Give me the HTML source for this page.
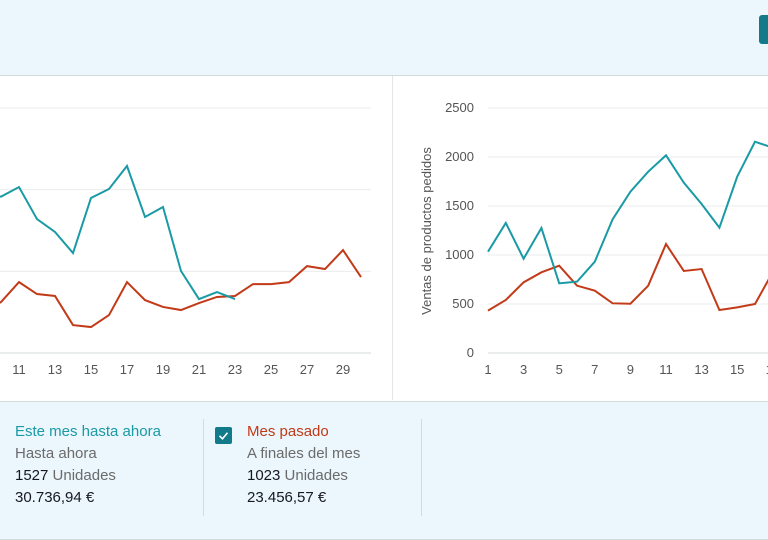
<!DOCTYPE html>
<html><head><meta charset="utf-8"><style>
body{margin:0;width:768px;height:539px;overflow:hidden;background:#fff;font-family:"Liberation Sans",sans-serif;position:relative}
.hdr{position:absolute;left:0;top:0;width:768px;height:75px;background:#ebf6fd;border-bottom:1px solid #d5dbdb}
.btn{position:absolute;left:759px;top:15px;width:20px;height:29px;background:#137a89;border-radius:3px}
.leg{position:absolute;left:0;top:401px;width:768px;height:137px;background:#ebf6fd;border-top:1px solid #d5dbdb;border-bottom:1px solid #d5dbdb}
.t{position:absolute;font-size:15px;line-height:21px}
.div{position:absolute;top:17px;width:1px;height:97px;background:#d5dbdb}
.cb{position:absolute;left:215px;top:25px;width:17px;height:17px;background:#137a89;border-radius:2px}
</style></head><body>
<div class="hdr"><div class="btn"></div></div>
<svg id="chart" width="768" height="400" style="position:absolute;left:0;top:0">
<rect x="392" y="76" width="1" height="325" fill="#e3e6e6"/>
<g id="left"></g><g id="right"></g>
<text transform="translate(431,231) rotate(-90)" text-anchor="middle" font-size="13" fill="#555" font-family="Liberation Sans">Ventas de productos pedidos</text>
</svg>
<div class="leg">
<div class="t" style="left:15px;top:19px;color:#1a9aa5">Este mes hasta ahora</div>
<div class="t" style="left:15px;top:41px;color:#6b6b6b">Hasta ahora</div>
<div class="t" style="left:15px;top:63px;color:#16191f">1527 <span style="color:#6b6b6b">Unidades</span></div>
<div class="t" style="left:15px;top:85px;color:#16191f">30.736,94 €</div>
<div class="div" style="left:203px"></div>
<div class="cb"><svg width="17" height="17"><path d="M4.5 8.8l3 3 5-6" stroke="#fff" stroke-width="1.6" fill="none"/></svg></div>
<div class="t" style="left:247px;top:19px;color:#c23a17">Mes pasado</div>
<div class="t" style="left:247px;top:41px;color:#6b6b6b">A finales del mes</div>
<div class="t" style="left:247px;top:63px;color:#16191f">1023 <span style="color:#6b6b6b">Unidades</span></div>
<div class="t" style="left:247px;top:85px;color:#16191f">23.456,57 €</div>
<div class="div" style="left:421px"></div>
</div>
<script>
const leftDays=[9,10,11,12,13,14,15,16,17,18,19,20,21,22,23,24,25,26,27,28,29,30];
const leftThis=[980,957,1016,820,741,612,949,1004,1145,833,894,502,330,373,330];
const leftLast=[250,312,434,361,349,171,159,232,434,324,282,263,306,343,349,422,422,434,532,514,630,465];
const leftTicks=[11,13,15,17,19,21,23,25,27,29];
const leftGrid=[0,500,1000,1500];
const rightDays=[1,2,3,4,5,6,7,8,9,10,11,12,13,14,15,16,17,18];
const rightThis=[1034,1327,962,1276,711,728,932,1364,1646,1850,2017,1738,1520,1279,1799,2156,2095,2000];
const rightLast=[432,541,721,823,891,687,636,507,503,687,1112,837,857,439,466,500,826,900];
const rightTicks=[1,3,5,7,9,11,13,15,17];
const rightGrid=[0,500,1000,1500,2000,2500];
const NS='http://www.w3.org/2000/svg';
function mk(tag,attrs,parent){const e=document.createElementNS(NS,tag);for(const k in attrs)e.setAttribute(k,attrs[k]);parent.appendChild(e);return e;}
function draw(g,opt){
  const xS=d=>opt.x0+(d-opt.d0)*opt.dx;
  const yS=v=>353-v*opt.ky;
  opt.grid.forEach(v=>{
    const l=mk('line',{x1:opt.gx1,x2:opt.gx2,y1:yS(v),y2:yS(v),stroke:v===0?'#d5dbdb':'#e9ebed','stroke-width':1},g);
    
    
    if(opt.ylab){const t=mk('text',{x:opt.ylx,y:yS(v)+4,'text-anchor':'end','font-size':13,fill:'#555','font-family':'Liberation Sans'},g);t.textContent=v;
    
    }
  });
  opt.ticks.forEach(d=>{const t=mk('text',{x:xS(d),y:374,'text-anchor':'middle','font-size':13,fill:'#555','font-family':'Liberation Sans'},g);t.textContent=d;
    
    });
  [[opt.last,'#c23a17','series-last-month'],[opt.cur,'#1a9aa5','series-this-month']].forEach(([vals,c,n])=>{
    const pts=vals.map((v,i)=>xS(opt.days[i])+','+yS(v)).join(' ');
    const p=mk('polyline',{points:pts,fill:'none',stroke:c,'stroke-width':2,'stroke-linejoin':'miter'},g);
    
    
  });
}
draw(document.getElementById('left'),{days:leftDays,cur:leftThis,last:leftLast,ticks:leftTicks,grid:leftGrid,x0:19,d0:11,dx:18,ky:245/1500,gx1:-10,gx2:371,ylab:false});
draw(document.getElementById('right'),{days:rightDays,cur:rightThis,last:rightLast,ticks:rightTicks,grid:rightGrid,x0:488,d0:1,dx:17.8,ky:245/2500,gx1:488,gx2:800,ylab:true,ylx:474});
</script>
</body></html>
